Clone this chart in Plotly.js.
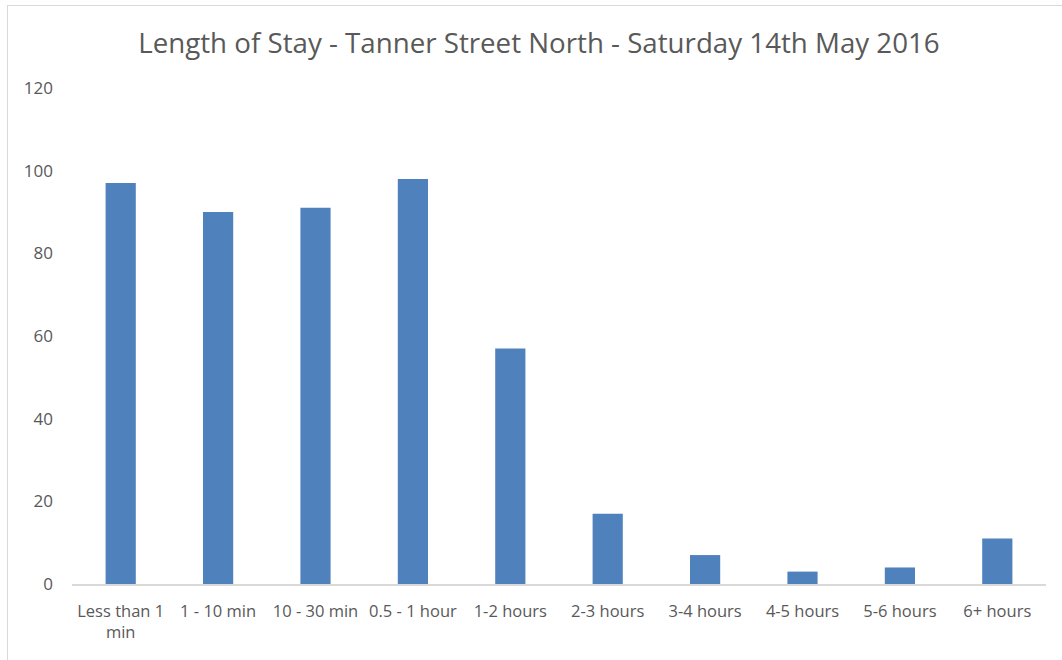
<!DOCTYPE html>
<html>
<head>
<meta charset="utf-8">
<script src="https://cdn.plot.ly/plotly-3.0.1.min.js"></script>
<style>
html,body{margin:0;padding:0;background:#fff;}
#wrap{position:relative;width:1062px;height:660px;overflow:hidden;}
#chart{position:absolute;left:0;top:0;width:1062px;height:660px;}
#frame{position:absolute;left:7px;top:5px;width:1100px;height:700px;border-left:1px solid #d9d9d9;border-top:1px solid #d9d9d9;pointer-events:none;}
</style>
</head>
<body>
<div id="wrap">
<div id="chart"></div>
<div id="frame"></div>
</div>
<script>
const categories = ["Less than 1<br>min", "1 - 10 min", "10 - 30 min", "0.5 - 1 hour", "1-2 hours", "2-3 hours", "3-4 hours", "4-5 hours", "5-6 hours", "6+ hours"];
const counts = [97, 90, 91, 98, 57, 17, 7, 3, 4, 11];
const yTicks = [0, 20, 40, 60, 80, 100, 120];

const fontFam = "Open Sans, Noto Sans, sans-serif";
const trace = {
  type: "bar",
  x: categories,
  y: counts,
  marker: {color: "#4F81BD"},
  hoverinfo: "x+y"
};
const layout = {
  width: 1062,
  height: 660,
  margin: {l: 72, r: 16, t: 88, b: 76},
  paper_bgcolor: "rgba(0,0,0,0)",
  plot_bgcolor: "#ffffff",
  bargap: 0.69,
  showlegend: false,
  title: {
    text: "Length of Stay - Tanner Street North - Saturday 14th May 2016",
    font: {family: fontFam, size: 27.7, color: "#595959"},
    x: 0.5075, xanchor: "center", y: 0.935, yanchor: "middle"
  },
  xaxis: {
    type: "category",
    showgrid: false,
    showline: true,
    linecolor: "#d9d9d9",
    linewidth: 2,
    ticks: "",
    ticklabelstandoff: 11,
    tickfont: {family: fontFam, size: 16.5, color: "#595959"},
    fixedrange: true
  },
  yaxis: {
    range: [0, 120],
    tickvals: yTicks,
    showgrid: false,
    zeroline: false,
    showline: false,
    ticks: "",
    ticklabelstandoff: 18,
    tickfont: {family: fontFam, size: 17, color: "#595959"},
    fixedrange: true
  }
};
Plotly.newPlot("chart", [trace], layout, {displayModeBar: false, staticPlot: true});
</script>
</body>
</html>
